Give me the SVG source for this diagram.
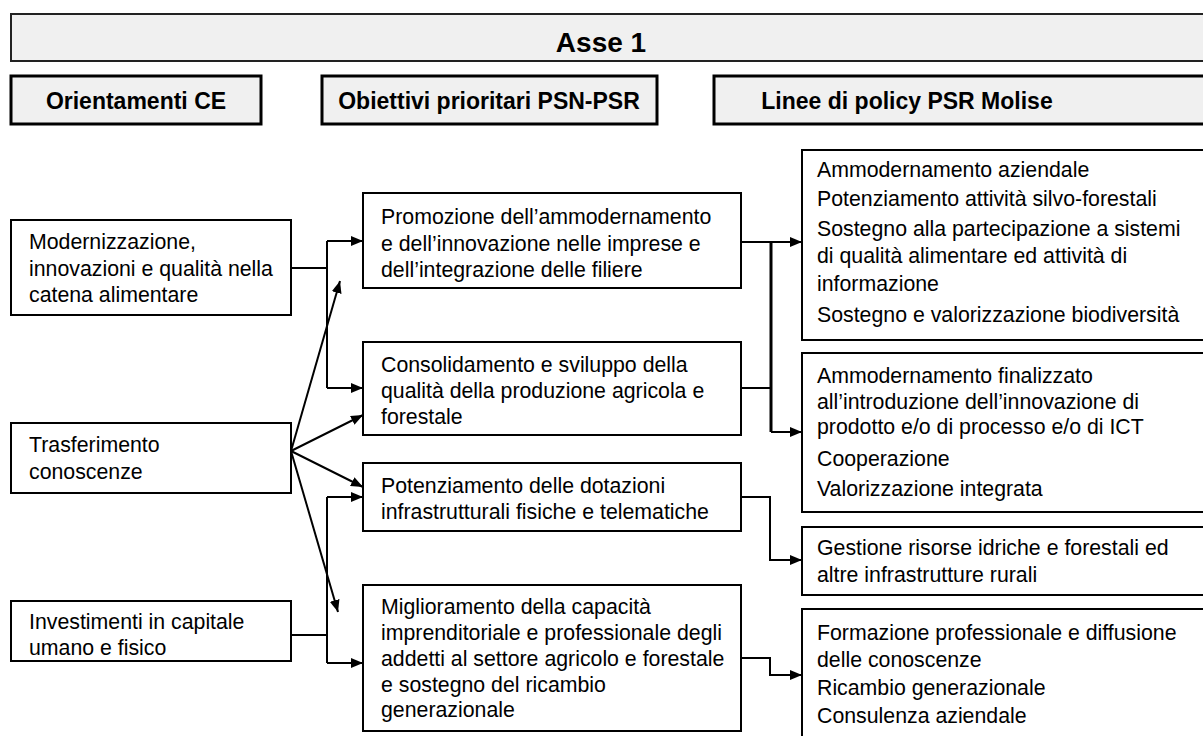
<svg xmlns="http://www.w3.org/2000/svg" width="1203" height="736" viewBox="0 0 1203 736">
<style>
.box{fill:#fff;stroke:#000;stroke-width:2}
.hdr{fill:#f0f0f0;stroke:#000;stroke-width:3}
.top{fill:#f0f0f0;stroke:#222;stroke-width:2}
.t{font-family:"Liberation Sans",Arial,sans-serif;font-size:21.3px;fill:#000}
.h{font-family:"Liberation Sans",Arial,sans-serif;font-size:23px;font-weight:bold;fill:#000;text-anchor:middle}
.c{fill:none;stroke:#000;stroke-width:2}
</style>
<defs>
<marker id="ah" viewBox="0 0 12 10" refX="12" refY="5" markerWidth="12" markerHeight="10" markerUnits="userSpaceOnUse" orient="auto">
<path d="M0,0 L12,5 L0,10 Z" fill="#000"/>
</marker>
</defs>
<rect width="1203" height="736" fill="#fff"/>
<g id="asse">
<rect class="top" x="11" y="14" width="1200" height="47"/>
<text class="h" x="601" y="52" style="font-size:28px">Asse 1</text>
</g>
<g id="hdr-orientamenti">
<rect class="hdr" x="11" y="76" width="250" height="48"/>
<text class="h" x="136" y="109">Orientamenti CE</text>
</g>
<g id="hdr-obiettivi">
<rect class="hdr" x="322" y="76" width="335" height="48"/>
<text class="h" x="489" y="109">Obiettivi prioritari PSN-PSR</text>
</g>
<g id="hdr-linee">
<rect class="hdr" x="714" y="76" width="500" height="48"/>
<text class="h" x="907" y="109">Linee di policy PSR Molise</text>
</g>
<g id="o1">
<rect class="box" x="11" y="220" width="280" height="95"/>
<text class="t" x="29" y="249">Modernizzazione,</text>
<text class="t" x="29" y="276">innovazioni e qualità nella</text>
<text class="t" x="29" y="302">catena alimentare</text>
</g>
<g id="o2">
<rect class="box" x="11" y="423" width="280" height="70"/>
<text class="t" x="29" y="452">Trasferimento</text>
<text class="t" x="29" y="479">conoscenze</text>
</g>
<g id="o3">
<rect class="box" x="11" y="601" width="280" height="60"/>
<text class="t" x="29" y="629">Investimenti in capitale</text>
<text class="t" x="29" y="655">umano e fisico</text>
</g>
<g id="p1">
<rect class="box" x="363" y="193" width="378" height="95"/>
<text class="t" x="381" y="224">Promozione dell’ammodernamento</text>
<text class="t" x="381" y="251">e dell’innovazione nelle imprese e</text>
<text class="t" x="381" y="277">dell’integrazione delle filiere</text>
</g>
<g id="p2">
<rect class="box" x="363" y="342" width="378" height="93"/>
<text class="t" x="381" y="372">Consolidamento e sviluppo della</text>
<text class="t" x="381" y="398">qualità della produzione agricola e</text>
<text class="t" x="381" y="424">forestale</text>
</g>
<g id="p3">
<rect class="box" x="363" y="463" width="378" height="68"/>
<text class="t" x="381" y="493">Potenziamento delle dotazioni</text>
<text class="t" x="381" y="519">infrastrutturali fisiche e telematiche</text>
</g>
<g id="p4">
<rect class="box" x="363" y="585" width="378" height="146"/>
<text class="t" x="381" y="614">Miglioramento della capacità</text>
<text class="t" x="381" y="640">imprenditoriale e professionale degli</text>
<text class="t" x="381" y="666">addetti al settore agricolo e forestale</text>
<text class="t" x="381" y="692">e sostegno del ricambio</text>
<text class="t" x="381" y="717">generazionale</text>
</g>
<g id="l1">
<rect class="box" x="802" y="150" width="410" height="190"/>
<text class="t" x="817" y="177">Ammodernamento aziendale</text>
<text class="t" x="817" y="206">Potenziamento attività silvo-forestali</text>
<text class="t" x="817" y="236">Sostegno alla partecipazione a sistemi</text>
<text class="t" x="817" y="263">di qualità alimentare ed attività di</text>
<text class="t" x="817" y="291">informazione</text>
<text class="t" x="817" y="322">Sostegno e valorizzazione biodiversità</text>
</g>
<g id="l2">
<rect class="box" x="802" y="353" width="410" height="159"/>
<text class="t" x="817" y="383">Ammodernamento finalizzato</text>
<text class="t" x="817" y="409">all’introduzione dell’innovazione di</text>
<text class="t" x="817" y="434">prodotto e/o di processo e/o di ICT</text>
<text class="t" x="817" y="466">Cooperazione</text>
<text class="t" x="817" y="496">Valorizzazione integrata</text>
</g>
<g id="l3">
<rect class="box" x="802" y="527" width="410" height="68"/>
<text class="t" x="817" y="555">Gestione risorse idriche e forestali ed</text>
<text class="t" x="817" y="582">altre infrastrutture rurali</text>
</g>
<g id="l4">
<rect class="box" x="802" y="609" width="410" height="140"/>
<text class="t" x="817" y="640">Formazione professionale e diffusione</text>
<text class="t" x="817" y="667">delle conoscenze</text>
<text class="t" x="817" y="695">Ricambio generazionale</text>
<text class="t" x="817" y="723">Consulenza aziendale</text>
</g>
<g id="connectors">
<path class="c" d="M291,268 H327"/>
<path class="c" d="M327,241 V388"/>
<path class="c" d="M327,241 H363" marker-end="url(#ah)"/>
<path class="c" d="M327,388 H363" marker-end="url(#ah)"/>
<path class="c" d="M291,451 L340,281" marker-end="url(#ah)"/>
<path class="c" d="M291,451 L363,415" marker-end="url(#ah)"/>
<path class="c" d="M291,451 L363,487" marker-end="url(#ah)"/>
<path class="c" d="M291,451 L338,612" marker-end="url(#ah)"/>
<path class="c" d="M291,635 H327"/>
<path class="c" d="M327,497 V663"/>
<path class="c" d="M327,497 H363" marker-end="url(#ah)"/>
<path class="c" d="M327,663 H363" marker-end="url(#ah)"/>
<path class="c" d="M741,242 H771"/>
<path class="c" d="M741,388 H771"/>
<path class="c" style="stroke-width:3" d="M771,242 V432"/>
<path class="c" d="M771,242 H802" marker-end="url(#ah)"/>
<path class="c" d="M771,432 H802" marker-end="url(#ah)"/>
<path class="c" d="M741,497 H770 V560 H802" marker-end="url(#ah)"/>
<path class="c" d="M741,658 H770 V675 H802" marker-end="url(#ah)"/>
</g>
</svg>
